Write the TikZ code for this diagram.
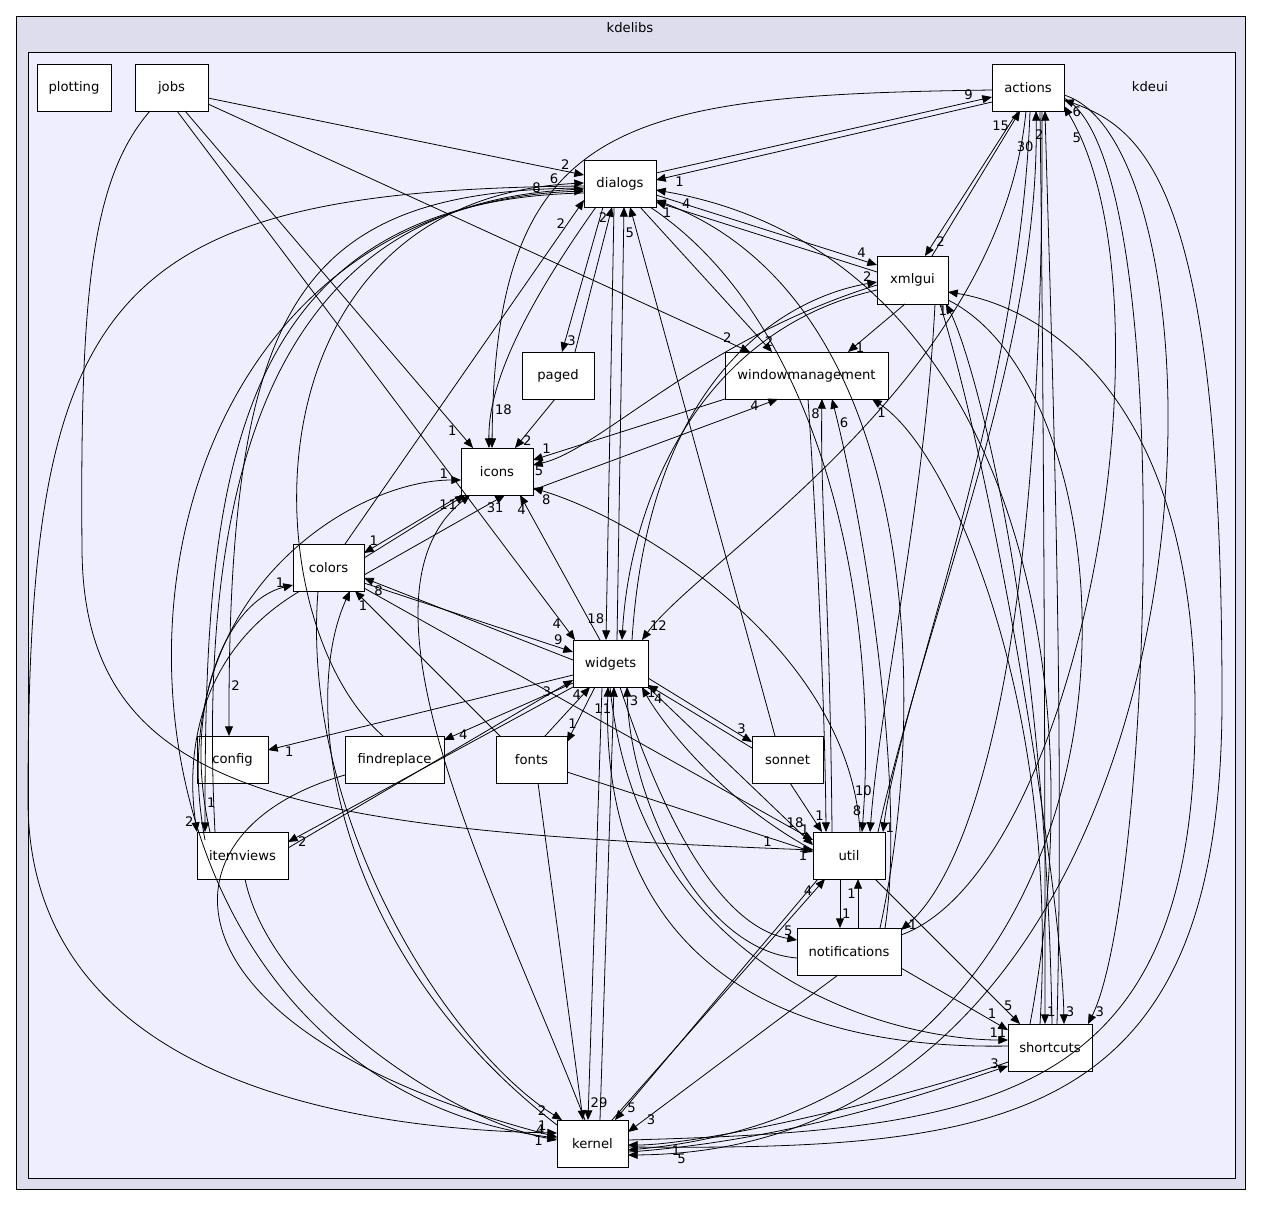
\documentclass[tikz,border=0pt]{standalone}
\usepackage{fontspec}
\setmainfont{DejaVu Sans}
\usetikzlibrary{arrows.meta,calc}
\definecolor{outerc}{RGB}{221,221,238}
\definecolor{innerc}{RGB}{238,238,255}
\begin{document}
\begin{tikzpicture}[x=0.02cm,y=-0.02cm,
 box/.style={draw=black,fill=white,line width=0.5pt,minimum height=0.94cm,inner sep=0pt,font=\fontsize{7.5}{9}\selectfont},
 dep/.style={line width=0.45pt,-{Triangle[length=5.5pt,width=4.5pt]}},
 lab/.style={font=\fontsize{7.5}{9}\selectfont,inner sep=1pt},
 ttl/.style={font=\fontsize{7.5}{9}\selectfont,inner sep=0pt}]
\useasboundingbox (0,0) rectangle (1261,1205);
\fill[white] (0,0) rectangle (1261,1205);
\draw[fill=outerc,line width=0.5pt] (16,16) rectangle (1245,1189);
\draw[fill=innerc,line width=0.5pt] (28,52) rectangle (1235,1178);
\node[ttl] (tkdelibs) at (630,28) {kdelibs};
\node[ttl] (tkdeui) at (1150,87) {kdeui};
% nodes
\node[box,minimum width=1.48cm] (plotting) at (74,87.5) {plotting};
\node[box,minimum width=1.46cm] (jobs) at (171.5,87.5) {jobs};
\node[box,minimum width=1.44cm] (actions) at (1028,87.5) {actions};
\node[box,minimum width=1.44cm] (dialogs) at (620,183.5) {dialogs};
\node[box,minimum width=1.42cm,minimum height=0.96cm] (xmlgui) at (912.5,280) {xmlgui};
\node[box,minimum width=1.44cm] (paged) at (558,375.5) {paged};
\node[box,minimum width=3.26cm] (wm) at (806.5,375.5) {windowmanagement};
\node[box,minimum width=1.44cm] (icons) at (497,471.5) {icons};
\node[box,minimum width=1.42cm] (colors) at (328.5,567.5) {colors};
\node[box,minimum width=1.50cm] (widgets) at (610.5,663.5) {widgets};
\node[box,minimum width=1.42cm] (config) at (232.5,759.5) {config};
\node[box,minimum width=1.98cm] (findreplace) at (394.5,759.5) {findreplace};
\node[box,minimum width=1.42cm] (fonts) at (531.5,759.5) {fonts};
\node[box,minimum width=1.42cm] (sonnet) at (787.5,759.5) {sonnet};
\node[box,minimum width=1.82cm] (itemviews) at (242.5,855.5) {itemviews};
\node[box,minimum width=1.44cm] (util) at (849,855.5) {util};
\node[box,minimum width=2.08cm] (notifications) at (849,951.5) {notifications};
\node[box,minimum width=1.68cm] (shortcuts) at (1050,1047.5) {shortcuts};
\node[box,minimum width=1.42cm] (kernel) at (592.5,1143.5) {kernel};
% jobs
\draw[dep] ($(jobs)+(36.5,10.5)$) -- node[lab,pos=.95,above]{2} ($(dialogs)+(-36,-8.5)$);
\draw[dep] ($(jobs)+(36.5,16.5)$) -- node[lab,pos=.97,above left]{2} ($(wm)+(-56.5,-23.5)$);
\draw[dep] ($(jobs)+(13.5,23.5)$) -- node[lab,pos=.95,left]{1} ($(icons)+(-24,-23.5)$);
\draw[dep] ($(jobs)+(5.5,23.5)$) -- node[lab,pos=.97,left]{4} ($(widgets)+(-35.5,-23.5)$);
\draw[dep] ($(jobs)+(-21.5,23.5)$) .. controls (90,180) and (80,300) .. (82,550) .. controls (84,800) and (300,830) .. node[lab,pos=.97,above]{1} ($(util)+(-36,-5.5)$);
% actions
\draw[dep] ($(dialogs)+(36,-10.5)$) -- node[lab,pos=.93,above]{9} ($(actions)+(-36,9.5)$);
\draw[dep] ($(actions)+(-36,14.5)$) -- node[lab,pos=.93,below]{1} ($(dialogs)+(36,-3.5)$);
\draw[dep] ($(actions)+(-36,2.5)$) .. controls (620,95) and (495,120) .. node[lab,pos=.96,right]{18} ($(icons)+(-5,-23.5)$);
\draw[dep] ($(actions)+(-10,23.5)$) -- node[lab,pos=.9,right]{2} ($(xmlgui)+(12.5,-24)$);
\draw[dep] ($(xmlgui)+(19.5,-24)$) -- node[lab,pos=.9,left]{15} ($(actions)+(-8,23.5)$);
\draw[dep] ($(actions)+(-2,23.5)$) .. controls (1000,380) and (700,560) .. node[lab,pos=.97,above right]{12} ($(widgets)+(31.5,-23.5)$);
\draw[dep] ($(actions)+(2,23.5)$) .. controls (1020,400) and (900,700) .. node[lab,pos=.99,right]{1} ($(util)+(34,-23.5)$);
\draw[dep] ($(util)+(29,-23.5)$) .. controls (930,600) and (1040,350) .. node[lab,pos=.95,left]{30} ($(actions)+(8,23.5)$);
\draw[dep] ($(actions)+(12,23.5)$) .. controls (1045,500) and (1045,900) .. node[lab,pos=.97,right]{1} ($(shortcuts)+(-5,-23.5)$);
\draw[dep] ($(shortcuts)+(7,-23.5)$) .. controls (1065,700) and (1050,300) .. node[lab,pos=.96,left]{2} ($(actions)+(17,23.5)$);
\draw[dep] ($(kernel)+(35.5,3.5)$) .. controls (1000,1150) and (1222,1130) .. (1222,700) .. controls (1222,200) and (1150,130) .. node[lab,pos=.95,below]{6} ($(actions)+(36,12.5)$);
\draw[dep] ($(notifications)+(52,-16.5)$) .. controls (1080,870) and (1180,300) .. node[lab,pos=.96,below]{5} ($(actions)+(36,18.5)$);
\draw[dep] ($(actions)+(36,10.5)$) .. controls (1180,160) and (1150,900) .. node[lab,pos=.97,right]{3} ($(shortcuts)+(38,-23.5)$);
\draw[dep] ($(actions)+(14,23.5)$) .. controls (1045,700) and (960,880) .. node[lab,pos=.97,right]{1} ($(notifications)+(52,-21.5)$);
% dialogs
\draw[dep] ($(dialogs)+(36,11.5)$) -- node[lab,pos=.93,above]{4} ($(xmlgui)+(-35.5,-15)$);
\draw[dep] ($(xmlgui)+(-35.5,-8)$) -- node[lab,pos=.95,below]{1} ($(dialogs)+(36,18.5)$);
\draw[dep] ($(dialogs)+(20,23.5)$) -- node[lab,pos=.93,right]{2} ($(wm)+(-34.5,-23.5)$);
\draw[dep] ($(dialogs)+(-17,23.5)$) -- node[lab,pos=.92,right]{3} ($(paged)+(4,-23.5)$);
\draw[dep] ($(paged)+(17,-23.5)$) -- node[lab,pos=.93,left]{2} ($(dialogs)+(-8,23.5)$);
\draw[dep] ($(dialogs)+(-24,23.5)$) .. controls (530,300) and (488,380) .. ($(icons)+(-8,-23.5)$);
\draw[dep] ($(dialogs)+(-6,23.5)$) -- node[lab,pos=.95,left]{18} ($(widgets)+(-4.5,-23.5)$);
\draw[dep] ($(widgets)+(6.5,-23.5)$) -- node[lab,pos=.94,right]{5} ($(dialogs)+(4,23.5)$);
\draw[dep] ($(dialogs)+(-36,4.5)$) .. controls (300,190) and (228,300) .. node[lab,pos=.96,right]{2} ($(config)+(-3.5,-23.5)$);
\draw[dep] ($(dialogs)+(-36,9.5)$) .. controls (220,200) and (205,500) .. node[lab,pos=.97,right]{1} ($(itemviews)+(-37.5,-23.5)$);
\draw[dep] ($(dialogs)+(30,23.5)$) .. controls (820,320) and (880,600) .. node[lab,pos=.97,left]{8} ($(util)+(13,-23.5)$);
\draw[dep] ($(dialogs)+(-36,2.5)$) .. controls (100,190) and (28,300) .. (28,800) .. controls (28,1100) and (400,1130) .. node[lab,pos=.97,above]{1} ($(kernel)+(-35.5,-10.5)$);
\draw[dep] ($(colors)+(16.5,-23.5)$) -- node[lab,pos=.93,left]{2} ($(dialogs)+(-36,16.5)$);
\draw[dep] ($(findreplace)+(-11.5,-23.5)$) .. controls (250,620) and (240,200) .. node[lab,pos=.97,above]{6} ($(dialogs)+(-36,-0.5)$);
\draw[dep] ($(sonnet)+(-12.5,-23.5)$) -- ($(dialogs)+(10,23.5)$);
\draw[dep] ($(notifications)+(31,-23.5)$) .. controls (930,700) and (920,300) .. ($(dialogs)+(36,16.5)$);
\draw[dep] ($(shortcuts)+(-20,-23.5)$) .. controls (1100,650) and (1000,250) .. node[lab,pos=.97,below]{4} ($(dialogs)+(36,6.5)$);
\draw[dep] ($(kernel)+(-35.5,-5.5)$) .. controls (40,1080) and (40,210) .. node[lab,pos=.97,above]{8} ($(dialogs)+(-36,7.5)$);
\draw[dep] ($(itemviews)+(-27.5,-23.5)$) .. controls (190,350) and (350,200) .. ($(dialogs)+(-36,5.5)$);
% icons
\draw[dep] ($(icons)+(-36,23.5)$) -- node[lab,pos=.9,above]{1} ($(colors)+(35.5,-14.5)$);
\draw[dep] ($(colors)+(35.5,-9.5)$) -- node[lab,pos=.85,left]{1} ($(icons)+(-32,23.5)$);
\draw[dep] ($(colors)+(35.5,7.5)$) -- node[lab,pos=.93,below]{31} ($(icons)+(8,23.5)$);
\draw[dep] ($(wm)+(-81.5,23.5)$) -- node[lab,pos=.93,above]{1} ($(icons)+(36,-11.5)$);
\draw[dep] ($(icons)+(36,18.5)$) -- node[lab,pos=.93,left]{4} ($(wm)+(-28.5,23.5)$);
\draw[dep] ($(xmlgui)+(-35.5,5)$) .. controls (700,340) and (600,450) .. node[lab,pos=.97,below]{5} ($(icons)+(36,-6.5)$);
\draw[dep] ($(paged)+(-3,23.5)$) -- node[lab,pos=.85,right]{2} ($(icons)+(18,-23.5)$);
\draw[dep] ($(widgets)+(-10.5,-23.5)$) -- node[lab,pos=.9,left]{4} ($(icons)+(23,23.5)$);
\draw[dep] ($(util)+(11,-23.5)$) .. controls (850,650) and (640,520) .. node[lab,pos=.96,below]{8} ($(icons)+(36,16.5)$);
\draw[dep] ($(kernel)+(-7.5,-23.5)$) .. controls (500,900) and (340,600) .. node[lab,pos=.97,left]{1} ($(icons)+(-27,23.5)$);
\draw[dep] ($(itemviews)+(-37.5,-15.5)$) .. controls (160,600) and (350,480) .. node[lab,pos=.95,above]{1} ($(icons)+(-36,8.5)$);
% colors
\draw[dep] ($(colors)+(35.5,15.5)$) -- node[lab,pos=.93,above]{9} ($(widgets)+(-37.5,-11.5)$);
\draw[dep] ($(widgets)+(-37.5,-3.5)$) -- node[lab,pos=.93,below]{8} ($(colors)+(35.5,10.5)$);
\draw[dep] ($(fonts)+(-31.5,-23.5)$) -- node[lab,pos=.9,left]{1} ($(colors)+(26.5,23.5)$);
\draw[dep] ($(itemviews)+(-32.5,-23.5)$) .. controls (180,700) and (230,600) .. node[lab,pos=.93,above]{1} ($(colors)+(-35.5,17.5)$);
\draw[dep] ($(colors)+(-28.5,23.5)$) .. controls (200,650) and (185,750) .. node[lab,pos=.96,left]{2} ($(itemviews)+(-45.5,-23.5)$);
\draw[dep] ($(colors)+(-10.5,23.5)$) .. controls (300,820) and (450,1050) .. node[lab,pos=.96,left]{2} ($(kernel)+(-30.5,-23.5)$);
\draw[dep] ($(kernel)+(-35.5,-18.5)$) .. controls (330,950) and (300,700) .. ($(colors)+(21.5,23.5)$);
\draw[dep] ($(colors)+(35.5,20.5)$) -- node[lab,pos=.96,above]{18} ($(util)+(-36,-15.5)$);
% widgets
\draw[dep] ($(widgets)+(-37.5,11.5)$) -- node[lab,pos=.93,below]{1} ($(config)+(35.5,-9.5)$);
\draw[dep] ($(widgets)+(-37.5,19.5)$) -- node[lab,pos=.9,right]{4} ($(findreplace)+(49.5,-19.5)$);
\draw[dep] ($(widgets)+(-15.5,23.5)$) -- node[lab,pos=.8,above]{1} ($(fonts)+(35.5,-17.5)$);
\draw[dep] ($(fonts)+(13.5,-23.5)$) -- node[lab,pos=.85,left]{4} ($(widgets)+(-20.5,23.5)$);
\draw[dep] ($(widgets)+(37.5,14.5)$) -- node[lab,pos=.9,above]{3} ($(sonnet)+(-35.5,-17.5)$);
\draw[dep] ($(sonnet)+(-35.5,-11.5)$) -- node[lab,pos=.9,below]{4} ($(widgets)+(37.5,21.5)$);
\draw[dep] ($(widgets)+(-37.5,23.5)$) -- node[lab,pos=.95,below]{2} ($(itemviews)+(45.5,-13.5)$);
\draw[dep] ($(itemviews)+(45.5,-7.5)$) -- node[lab,pos=.93,left]{3} ($(widgets)+(-37.5,16.5)$);
\draw[dep] ($(widgets)+(37.5,23.5)$) -- node[lab,pos=.95,above]{1} ($(util)+(-36,-10.5)$);
\draw[dep] ($(util)+(-36,-5.5)$) .. controls (720,800) and (660,720) .. node[lab,pos=.95,right]{1} ($(widgets)+(31.5,23.5)$);
\draw[dep] ($(widgets)+(-8.5,23.5)$) -- node[lab,pos=.96,right]{29} ($(kernel)+(-4.5,-23.5)$);
\draw[dep] ($(kernel)+(7.5,-23.5)$) -- node[lab,pos=.95,left]{11} ($(widgets)+(3.5,23.5)$);
\draw[dep] ($(widgets)+(9.5,23.5)$) .. controls (680,870) and (740,930) .. node[lab,pos=.95,above]{5} ($(notifications)+(-52,-11.5)$);
\draw[dep] ($(notifications)+(-52,6.5)$) .. controls (700,950) and (630,800) .. node[lab,pos=.96,right]{3} ($(widgets)+(16.5,23.5)$);
\draw[dep] ($(widgets)+(-0.5,23.5)$) .. controls (640,980) and (900,1040) .. node[lab,pos=.97,above]{11} ($(shortcuts)+(-42,-7.5)$);
\draw[dep] ($(shortcuts)+(-42,-1.5)$) .. controls (780,1050) and (600,960) .. ($(widgets)+(-2.5,23.5)$);
\draw[dep] ($(widgets)+(21.5,-23.5)$) .. controls (650,360) and (800,295) .. node[lab,pos=.96,above]{2} ($(xmlgui)+(-35.5,2)$);
\draw[dep] ($(xmlgui)+(-35.5,10)$) .. controls (700,330) and (630,500) .. ($(widgets)+(11.5,-23.5)$);
% util
\draw[dep] ($(util)+(-9,23.5)$) -- node[lab,pos=.7,right]{1} ($(notifications)+(-9,-23.5)$);
\draw[dep] ($(notifications)+(9,-23.5)$) -- node[lab,pos=.7,left]{1} ($(util)+(9,23.5)$);
\draw[dep] ($(util)+(26,23.5)$) -- node[lab,pos=.92,above]{5} ($(shortcuts)+(-30,-23.5)$);
\draw[dep] ($(kernel)+(19.5,-23.5)$) -- node[lab,pos=.95,left]{4} ($(util)+(-24,23.5)$);
\draw[dep] ($(util)+(-31,23.5)$) -- node[lab,pos=.95,right]{5} ($(kernel)+(22.5,-23.5)$);
\draw[dep] ($(util)+(-17,-23.5)$) .. controls (830,600) and (820,500) .. node[lab,pos=.95,left]{8} ($(wm)+(15.5,23.5)$);
\draw[dep] ($(wm)+(1.5,23.5)$) .. controls (815,500) and (825,700) .. node[lab,pos=.96,left]{1} ($(util)+(-23,-23.5)$);
\draw[dep] ($(xmlgui)+(22.5,24)$) .. controls (925,500) and (880,700) .. node[lab,pos=.9,left]{10} ($(util)+(21,-23.5)$);
\draw[dep] ($(fonts)+(35.5,12.5)$) -- node[lab,pos=.96,below]{1} ($(util)+(-36,-3.5)$);
\draw[dep] ($(sonnet)+(2.5,23.5)$) -- ($(util)+(-27,-23.5)$);
% notifications
\draw[dep] ($(notifications)+(-11,23.5)$) -- node[lab,pos=.92,right]{3} ($(kernel)+(35.5,-11.5)$);
\draw[dep] ($(notifications)+(52,16.5)$) -- node[lab,pos=.85,above]{1} ($(shortcuts)+(-42,-17.5)$);
\draw[dep] ($(notifications)+(36,-23.5)$) .. controls (905,800) and (870,550) .. node[lab,pos=.95,right]{6} ($(wm)+(25.5,23.5)$);
% shortcuts
\draw[dep] ($(kernel)+(35.5,8.5)$) .. controls (800,1140) and (950,1085) .. node[lab,pos=.93,above]{3} ($(shortcuts)+(-42,18.5)$);
\draw[dep] ($(shortcuts)+(-42,14.5)$) .. controls (900,1100) and (700,1145) .. ($(kernel)+(35.5,1.5)$);
\draw[dep] ($(shortcuts)+(-10,-23.5)$) .. controls (1060,700) and (950,450) .. node[lab,pos=.96,below]{1} ($(wm)+(65.5,23.5)$);
\draw[dep] ($(shortcuts)+(2,-23.5)$) .. controls (1045,600) and (970,350) .. node[lab,pos=.96,left]{1} ($(xmlgui)+(33.5,24)$);
\draw[dep] ($(xmlgui)+(27.5,24)$) .. controls (1000,500) and (1062,900) .. node[lab,pos=.97,right]{3} ($(shortcuts)+(14,-23.5)$);
% kernel
\draw[dep] ($(itemviews)+(2.5,23.5)$) .. controls (270,1000) and (450,1120) .. node[lab,pos=.95,above]{4} ($(kernel)+(-35.5,-3.5)$);
\draw[dep] ($(findreplace)+(-49.5,15.5)$) .. controls (150,830) and (150,1030) .. node[lab,pos=.99,below left]{1} ($(kernel)+(-35.5,-6.5)$);
\draw[dep] ($(fonts)+(6.5,23.5)$) -- ($(kernel)+(-9.5,-23.5)$);
\draw[dep] ($(kernel)+(35.5,-3.5)$) .. controls (1000,1130) and (1200,1100) .. (1195,700) .. controls (1190,350) and (1000,300) .. ($(xmlgui)+(35.5,12)$);
\draw[dep] ($(xmlgui)+(35.5,20)$) .. controls (1150,400) and (1180,1100) .. node[lab,pos=.97,below]{1} ($(kernel)+(35.5,6.5)$);
\draw[dep] ($(actions)+(36,7.5)$) .. controls (1245,150) and (1240,1150) .. node[lab,pos=.97,below]{5} ($(kernel)+(35.5,11.5)$);
\draw[dep] ($(xmlgui)+(-7.5,24)$) -- node[lab,pos=.9,right]{1} ($(wm)+(41.5,-23.5)$);
\end{tikzpicture}
\end{document}
